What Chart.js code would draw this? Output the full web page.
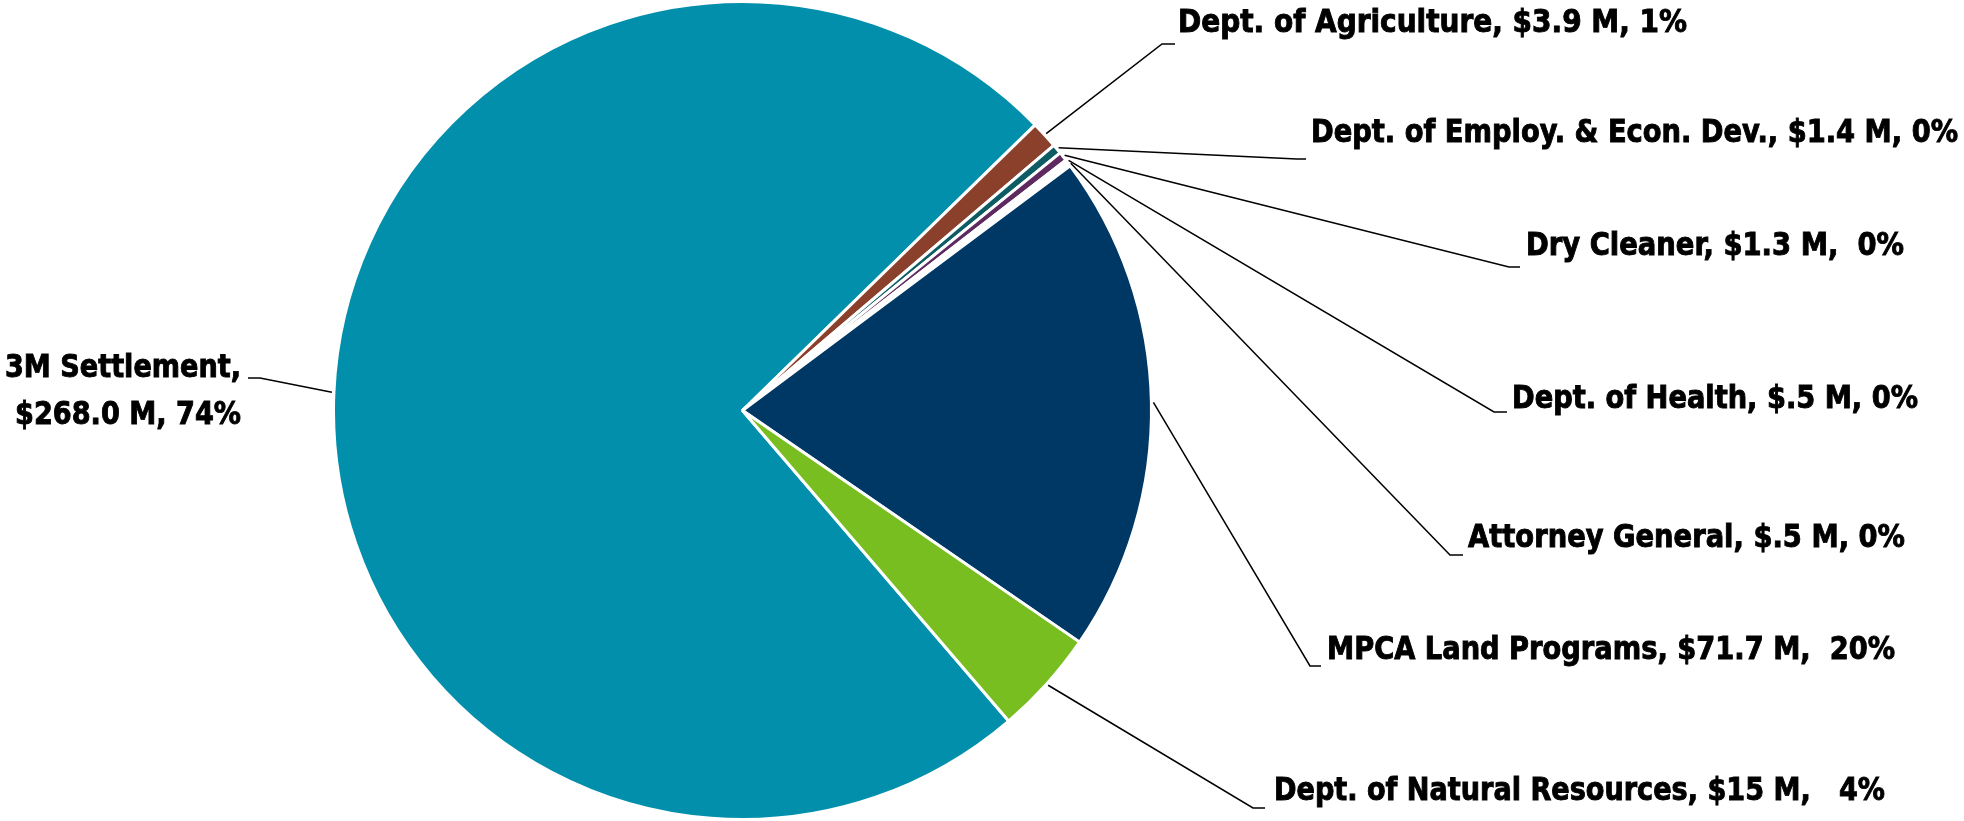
<!DOCTYPE html>
<html>
<head>
<meta charset="utf-8">
<script src="https://cdn.jsdelivr.net/npm/chart.js@4.4.1/dist/chart.umd.min.js"></script>
<style>
  html, body { margin: 0; padding: 0; background: #fff; }
  #wrap { width: 1964px; height: 821px; position: relative; }
</style>
</head>
<body>
<div id="wrap"><canvas id="pie"></canvas></div>
<script>
// data, clockwise from the 3M slice
const sources = ['3M Settlement', 'Dept. of Agriculture', 'Dept. of Employ. & Econ. Dev.', 'Dry Cleaner',
                 'Dept. of Health', 'Attorney General', 'MPCA Land Programs', 'Dept. of Natural Resources'];
const amounts = [268.0, 3.9, 1.4, 1.3, 0.5, 0.5, 71.7, 15];
const labelText = [
    ['3M Settlement,', '$268.0 M, 74%'],
    ['Dept. of Agriculture, $3.9 M, 1%'],
    ['Dept. of Employ. & Econ. Dev., $1.4 M, 0%'],
    ['Dry Cleaner, $1.3 M,  0%'],
    ['Dept. of Health, $.5 M, 0%'],
    ['Attorney General, $.5 M, 0%'],
    ['MPCA Land Programs, $71.7 M,  20%'],
    ['Dept. of Natural Resources, $15 M,   4%']
];
const colors = ['#028fab', '#8b402c', '#0d5c63', '#5d295f', '#ffffff', '#ffffff', '#003865', '#78be21'];

// label placement: elbow point, end of the short tick, text anchor (x, baseline), text width
const layout = [
    { ex: 260, ey: 378, tx: 248, ax: 241, by: [377, 424], w: [236, 226], side: 'left' },
    { ex: 1162, ey: 44, tx: 1175, ax: 1178, by: [32], w: [509] },
    { ex: 1297, ey: 159, tx: 1306, ax: 1311, by: [142], w: [647] },
    { ex: 1509, ey: 267, tx: 1520, ax: 1526, by: [255], w: [378] },
    { ex: 1494, ey: 412, tx: 1507, ax: 1512, by: [408], w: [406] },
    { ex: 1450, ey: 555, tx: 1463, ax: 1468, by: [547], w: [437] },
    { ex: 1310, ey: 666, tx: 1321, ax: 1327, by: [659], w: [568] },
    { ex: 1253, ey: 808, tx: 1265, ax: 1274, by: [800], w: [611] }
];

const leaderLabels = {
    id: 'leaderLabels',
    afterDatasetsDraw(chart) {
        const ctx = chart.ctx;
        const arcs = chart.getDatasetMeta(0).data;
        ctx.save();
        arcs.forEach((arc, i) => {
            const p = arc.getProps(['x', 'y', 'startAngle', 'endAngle', 'outerRadius'], true);
            const mid = (p.startAngle + p.endAngle) / 2;
            const r = p.outerRadius + 2;
            const L = layout[i];
            ctx.strokeStyle = '#000';
            ctx.lineWidth = 1.5;
            ctx.beginPath();
            ctx.moveTo(p.x + Math.cos(mid) * r, p.y + Math.sin(mid) * r);
            ctx.lineTo(L.ex, L.ey);
            ctx.lineTo(L.tx, L.ey);
            ctx.stroke();

            ctx.fillStyle = '#000';
            ctx.lineWidth = 0.9;
            ctx.font = 'bold 32px "DejaVu Sans Condensed", "Liberation Sans", sans-serif';
            ctx.textBaseline = 'alphabetic';
            ctx.textAlign = L.side === 'left' ? 'right' : 'left';
            labelText[i].forEach((t, j) => {
                const m = ctx.measureText(t).width;
                ctx.save();
                ctx.translate(L.ax, L.by[j]);
                ctx.scale(L.w[j] / m, 1);
                ctx.fillText(t, 0, 0);
                ctx.strokeText(t, 0, 0);
                ctx.restore();
            });
        });
        ctx.restore();
    }
};

new Chart(document.getElementById('pie'), {
    type: 'pie',
    data: {
        labels: sources,
        datasets: [{
            data: amounts,
            backgroundColor: colors,
            borderColor: '#ffffff',
            borderWidth: 3
        }]
    },
    options: {
        responsive: true,
        maintainAspectRatio: false,
        animation: false,
        rotation: 139.4,
        layout: { padding: { left: 332, right: 811, top: 0, bottom: 0 } },
        plugins: {
            legend: { display: false },
            tooltip: { enabled: false }
        }
    },
    plugins: [leaderLabels]
});
</script>
</body>
</html>
